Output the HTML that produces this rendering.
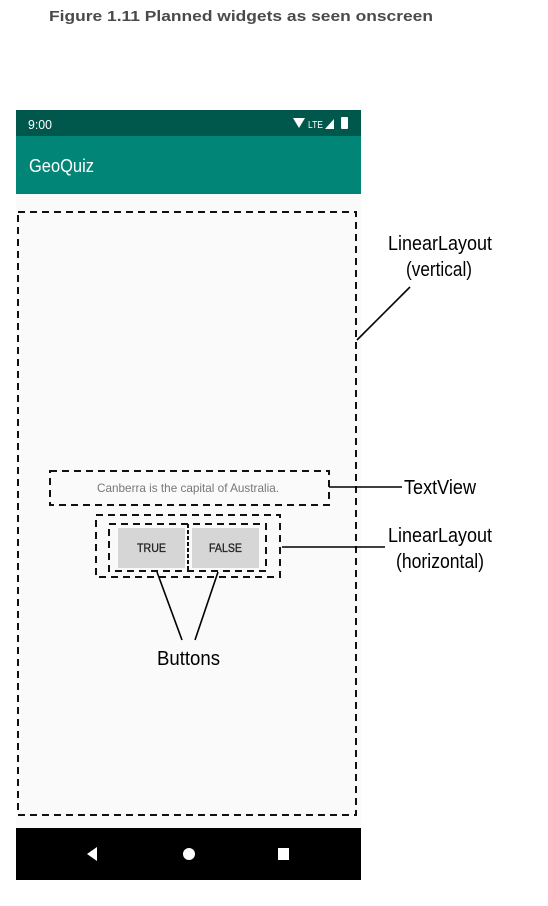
<!DOCTYPE html>
<html><head><meta charset="utf-8"><style>
html,body{margin:0;padding:0;background:#fff;}
svg{display:block;}
</style></head><body>
<svg width="548" height="906" viewBox="0 0 548 906" xmlns="http://www.w3.org/2000/svg" font-family="Liberation Sans, sans-serif">
<text x="49" y="21" font-size="15" font-weight="bold" fill="#4a4a4a" textLength="384" lengthAdjust="spacingAndGlyphs">Figure 1.11  Planned widgets as seen onscreen</text>
<rect x="16" y="110" width="345" height="26" fill="#00574b"/>
<text x="28" y="129" font-size="13" fill="#fff" textLength="24" lengthAdjust="spacingAndGlyphs">9:00</text>
<polygon points="293,118 305,118 299,128" fill="#fff"/>
<text x="308" y="128" font-size="10" fill="#fff" textLength="15" lengthAdjust="spacingAndGlyphs">LTE</text>
<polygon points="325,129 334,119 334,129" fill="#fff"/>
<rect x="341" y="117" width="7" height="12" rx="1" fill="#fff"/>
<rect x="16" y="136" width="345" height="58" fill="#008577"/>
<text x="29" y="172" font-size="18" fill="#fff" textLength="65" lengthAdjust="spacingAndGlyphs">GeoQuiz</text>
<rect x="16" y="194" width="345" height="634" fill="#fafafa"/>
<rect x="16" y="828" width="345" height="52" fill="#000"/>
<polygon points="97,847 97,861 87,854" fill="#fff"/>
<circle cx="189" cy="854" r="6" fill="#fff"/>
<rect x="278" y="848" width="11" height="12" fill="#fff"/>
<g fill="none" stroke="#111" stroke-width="2" stroke-dasharray="7,5">
<rect x="18" y="212" width="338" height="603"/>
<rect x="50" y="471" width="279" height="34"/>
<rect x="96" y="515" width="184" height="62"/>
<rect x="109" y="524" width="157" height="47"/>
<line x1="188" y1="524" x2="188" y2="571" stroke-dasharray="4,2"/>
</g>
<rect x="118" y="528" width="67" height="40" fill="#d6d6d6"/>
<rect x="192" y="528" width="67" height="40" fill="#d6d6d6"/>
<text x="151.5" y="552" font-size="12" fill="#222" stroke="#222" stroke-width="0.3" text-anchor="middle" textLength="29" lengthAdjust="spacingAndGlyphs">TRUE</text>
<text x="225.5" y="552" font-size="12" fill="#222" stroke="#222" stroke-width="0.3" text-anchor="middle" textLength="33" lengthAdjust="spacingAndGlyphs">FALSE</text>
<text x="188" y="492" font-size="12" fill="#777" text-anchor="middle" textLength="182" lengthAdjust="spacingAndGlyphs">Canberra is the capital of Australia.</text>
<g stroke="#000" stroke-width="1.6" fill="none">
<line x1="329" y1="487" x2="402" y2="487"/>
<line x1="282" y1="547" x2="385" y2="547"/>
<line x1="357" y1="340" x2="410" y2="287"/>
<line x1="157" y1="572" x2="182" y2="640"/>
<line x1="218" y1="572" x2="195" y2="640"/>
</g>
<g font-size="20" fill="#000">
<text x="388" y="250" textLength="104" lengthAdjust="spacingAndGlyphs">LinearLayout</text>
<text x="406" y="276" textLength="66" lengthAdjust="spacingAndGlyphs">(vertical)</text>
<text x="404" y="494" textLength="72" lengthAdjust="spacingAndGlyphs">TextView</text>
<text x="388" y="542" textLength="104" lengthAdjust="spacingAndGlyphs">LinearLayout</text>
<text x="396" y="568" textLength="88" lengthAdjust="spacingAndGlyphs">(horizontal)</text>
<text x="157" y="665" textLength="63" lengthAdjust="spacingAndGlyphs">Buttons</text>
</g>
</svg>
</body></html>
